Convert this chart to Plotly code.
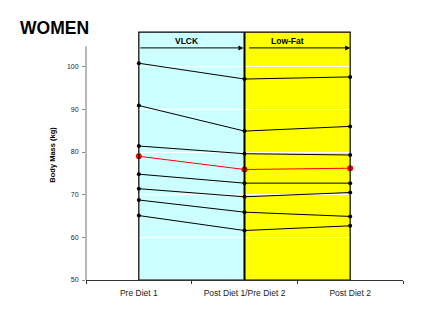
import plotly.graph_objects as go

categories = ["Pre Diet 1", "Post Diet 1/Pre Diet 2", "Post Diet 2"]
subjects_black = [
    [100.8, 97.1, 97.6],
    [90.9, 84.9, 86.0],
    [81.4, 79.6, 79.3],
    [74.8, 72.7, 72.7],
    [71.4, 69.5, 70.5],
    [68.75, 65.9, 64.9],
    [65.1, 61.6, 62.7],
]
mean_red = [79.0, 75.9, 76.2]
y_ticks = [50, 60, 70, 80, 90, 100]
phase_labels = ["VLCK", "Low-Fat"]

fig = go.Figure()
for s in subjects_black:
    fig.add_trace(go.Scatter(x=categories, y=s, mode="lines+markers",
                             line=dict(color="black", width=1),
                             marker=dict(color="black", size=4),
                             showlegend=False, cliponaxis=False))
fig.add_trace(go.Scatter(x=categories, y=mean_red, mode="lines+markers",
                         line=dict(color="red", width=1),
                         marker=dict(color="red", size=6, line=dict(width=0)),
                         showlegend=False, cliponaxis=False))

top = 108.1
shapes = [
    dict(type="rect", xref="x", yref="y", x0=0, x1=1, y0=50, y1=top,
         fillcolor="#ccffff", line=dict(width=0), layer="below"),
    dict(type="rect", xref="x", yref="y", x0=1, x1=2, y0=50, y1=top,
         fillcolor="#ffff00", line=dict(width=0), layer="below"),
    dict(type="rect", xref="x", yref="y", x0=0, x1=2, y0=50, y1=top,
         fillcolor="rgba(0,0,0,0)", line=dict(color="black", width=1.2), layer="above"),
    dict(type="line", xref="x", yref="y", x0=1, x1=1, y0=50, y1=top,
         line=dict(color="black", width=2), layer="above"),
    dict(type="line", xref="paper", yref="y", x0=0, x1=0, y0=50, y1=104.8,
         line=dict(color="#888888", width=1.2), layer="above"),
]

annotations = [
    dict(x=0, y=1.014, xref="paper", yref="paper", text="<b>WOMEN</b>",
         showarrow=False, xanchor="left", yanchor="middle",
         font=dict(size=17.5, color="black", family="Liberation Sans, Arial"),
         xshift=-68),
    dict(x=-0.48, y=(50 + 104.8) / 2 + 2, xref="x", yref="y", text="<b>Body Mass (kg)</b>",
         textangle=-90, showarrow=False, xshift=-36,
         font=dict(size=7.5, color="black", family="Liberation Sans, Arial")),
    dict(x=0.455, y=106.0, xref="x", yref="y", text="<b>" + phase_labels[0] + "</b>",
         showarrow=False, font=dict(size=8.5, color="black", family="Liberation Sans, Arial")),
    dict(x=1.41, y=106.0, xref="x", yref="y", text="<b>" + phase_labels[1] + "</b>",
         showarrow=False, font=dict(size=8.5, color="black", family="Liberation Sans, Arial")),
    dict(x=0.99, y=104.4, ax=0, ay=104.4, xref="x", yref="y", axref="x", ayref="y",
         text="", showarrow=True, arrowhead=2, arrowsize=1, arrowwidth=1, arrowcolor="black"),
    dict(x=2.0, y=104.4, ax=1.03, ay=104.4, xref="x", yref="y", axref="x", ayref="y",
         text="", showarrow=True, arrowhead=2, arrowsize=1, arrowwidth=1, arrowcolor="black"),
]

fig.update_layout(
    width=424, height=309,
    margin=dict(l=86, r=21, t=31, b=29),
    paper_bgcolor="white", plot_bgcolor="white",
    shapes=shapes, annotations=annotations,
    font=dict(family="Liberation Sans, Arial", color="black"),
)
fig.update_xaxes(type="category", range=[-0.5, 2.5], showgrid=False,
                 showline=True, linecolor="#333333", linewidth=1,
                 ticks="outside", ticklen=3, tickcolor="#333333", tickson="boundaries",
                 ticklabelstandoff=5,
                 tickfont=dict(size=8.5, color="#222222"), zeroline=False)
fig.update_yaxes(range=[50, 108.36], tickvals=y_ticks, showgrid=True,
                 gridcolor="white", gridwidth=1.2, showline=False,
                 ticks="outside", ticklen=3, tickcolor="#888888",
                 ticklabelstandoff=2,
                 tickfont=dict(size=7, color="#222233"), zeroline=False)

fig.write_html("out.html")
